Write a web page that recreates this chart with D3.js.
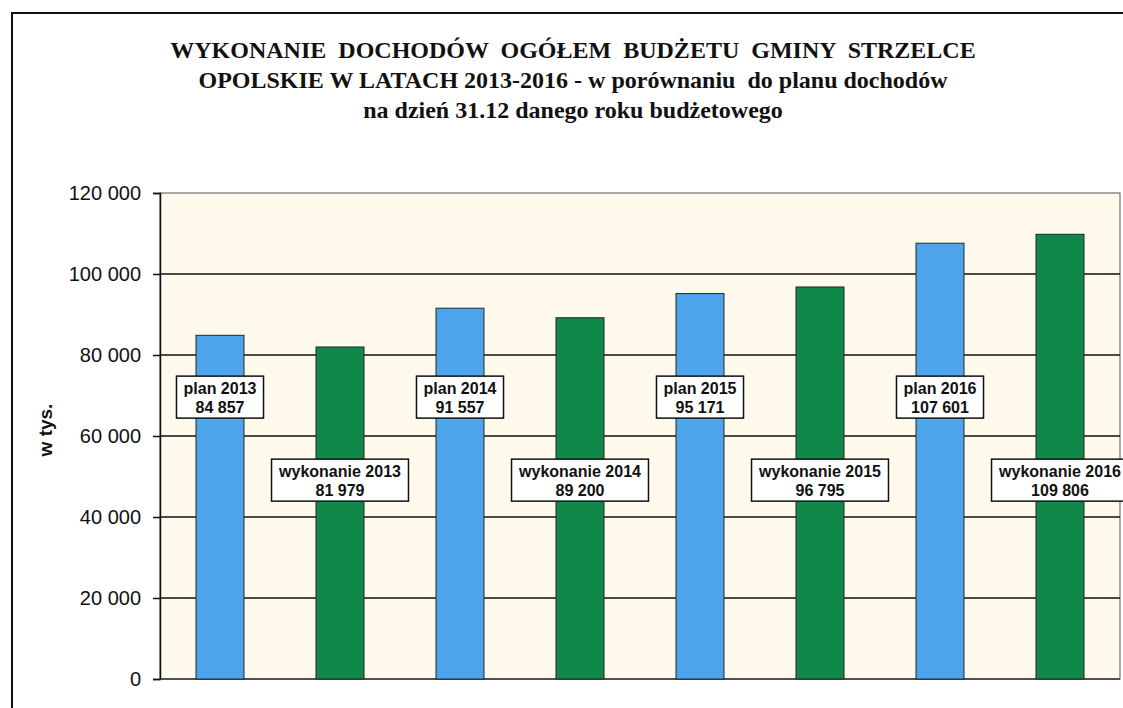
<!DOCTYPE html>
<html>
<head>
<meta charset="utf-8">
<script src="https://cdn.jsdelivr.net/npm/d3@7"></script>
<style>
  body { margin: 0; background: #fff; }
  svg { display: block; }
</style>
</head>
<body>
<div id="chart"></div>
<script>
// chart data
const categories = ["plan 2013", "wykonanie 2013", "plan 2014", "wykonanie 2014",
  "plan 2015", "wykonanie 2015", "plan 2016", "wykonanie 2016"];
const kinds = ["plan", "wyk", "plan", "wyk", "plan", "wyk", "plan", "wyk"];
const values = [84857, 81979, 91557, 89200, 95171, 96795, 107601, 109806];
const yTicks = [0, 20000, 40000, 60000, 80000, 100000, 120000];
const titleLines = [
  "WYKONANIE  DOCHODÓW  OGÓŁEM  BUDŻETU  GMINY  STRZELCE",
  "OPOLSKIE W LATACH 2013-2016 - w porównaniu  do planu dochodów",
  "na dzień 31.12 danego roku budżetowego"
];
const yLabel = "w tys.";

const width = 1123, height = 708;
const plot = {left: 160, right: 1120, top: 193, bottom: 679};
const colors = {plan: "#4ea5ee", wyk: "#10884a"};
// where the data labels sit (in axis units)
const labelAt = {plan: 69600, wyk: 49100};

const fmt = d3.formatLocale({decimal: ",", thousands: " ", grouping: [3], currency: ["", ""]}).format(",d");

const svg = d3.select("#chart").append("svg")
  .attr("width", width)
  .attr("height", height);

// outer frame
svg.append("rect")
  .attr("x", 12).attr("y", 13)
  .attr("width", width).attr("height", height)
  .attr("fill", "none")
  .attr("stroke", "#111")
  .attr("stroke-width", 2);

// title
svg.append("g").selectAll("text")
  .data(titleLines)
  .enter().append("text")
    .attr("x", 573)
    .attr("y", (d, i) => 58 + i * 30)
    .attr("text-anchor", "middle")
    .style("white-space", "pre")
    .style("font-family", "'Liberation Serif', 'Times New Roman', serif")
    .style("font-weight", "bold")
    .style("font-size", "24px")
    .attr("fill", "#111")
    .text(d => d);

const x = d3.scaleBand()
  .domain(categories)
  .range([plot.left, plot.right])
  .paddingInner(0.6)
  .paddingOuter(0.3);

const y = d3.scaleLinear()
  .domain([0, 120000])
  .range([plot.bottom, plot.top]);

// plot background
svg.append("rect")
  .attr("x", plot.left).attr("y", plot.top)
  .attr("width", plot.right - plot.left)
  .attr("height", plot.bottom - plot.top)
  .attr("fill", "#fffaec")
  .attr("stroke", "#555")
  .attr("stroke-width", 1);

// gridlines
svg.append("g").selectAll("line")
  .data(yTicks.filter(d => d > 0 && d < 120000))
  .enter().append("line")
    .attr("x1", plot.left).attr("x2", plot.right)
    .attr("y1", d => y(d)).attr("y2", d => y(d))
    .attr("stroke", "#111")
    .attr("stroke-width", 1.5);

// y axis
const yAxis = svg.append("g")
  .attr("transform", `translate(${plot.left},0)`)
  .call(d3.axisLeft(y).tickValues(yTicks).tickFormat(fmt).tickSize(7).tickPadding(12));
yAxis.select(".domain").attr("stroke", "#111").attr("stroke-width", 1.5);
yAxis.selectAll(".tick line").attr("stroke", "#111").attr("stroke-width", 1.5);
yAxis.selectAll(".tick text")
  .style("font-family", "'Liberation Sans', Arial, sans-serif")
  .style("font-size", "20px")
  .attr("fill", "#111");

// bottom axis line
svg.append("line")
  .attr("x1", plot.left).attr("x2", plot.right)
  .attr("y1", plot.bottom).attr("y2", plot.bottom)
  .attr("stroke", "#333").attr("stroke-width", 1.5);

// y label
svg.append("text")
  .attr("transform", "translate(52,430) rotate(-90)")
  .attr("text-anchor", "middle")
  .style("font-family", "'Liberation Sans', Arial, sans-serif")
  .style("font-weight", "bold")
  .style("font-size", "19px")
  .attr("fill", "#111")
  .text(yLabel);

// bars
svg.append("g").selectAll("rect")
  .data(values)
  .enter().append("rect")
    .attr("x", (d, i) => x(categories[i]))
    .attr("y", d => y(d))
    .attr("width", x.bandwidth())
    .attr("height", d => y(0) - y(d))
    .attr("fill", (d, i) => colors[kinds[i]])
    .attr("stroke", "#1d2a2a")
    .attr("stroke-width", 1);

// data labels
const labels = svg.append("g").selectAll("g")
  .data(values)
  .enter().append("g")
    .attr("transform", (d, i) =>
      `translate(${x(categories[i]) + x.bandwidth() / 2},${y(labelAt[kinds[i]])})`);

labels.each(function(d, i) {
  const g = d3.select(this);
  const box = g.append("rect");
  const t = g.append("text")
    .attr("text-anchor", "middle")
    .style("font-family", "'Liberation Sans', Arial, sans-serif")
    .style("font-weight", "bold")
    .style("font-size", "16px")
    .attr("fill", "#111");
  t.append("tspan").attr("x", 0).attr("y", -3).text(categories[i]);
  t.append("tspan").attr("x", 0).attr("y", 16).text(fmt(d));
  const w = t.node().getBBox().width + 14;
  box.attr("x", -w / 2).attr("y", -21)
    .attr("width", w).attr("height", 42)
    .attr("fill", "#fff")
    .attr("stroke", "#111")
    .attr("stroke-width", 1.5);
});
</script>
</body>
</html>
